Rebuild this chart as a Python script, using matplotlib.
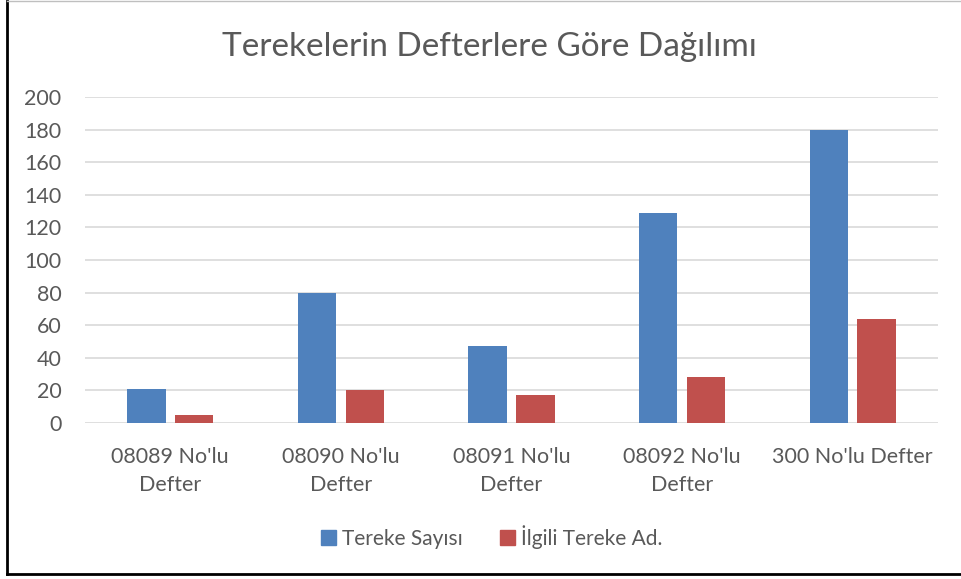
import matplotlib.pyplot as plt
import numpy as np
from matplotlib.patches import Rectangle
from matplotlib.lines import Line2D

# data
categories = ["08089 No'lu\nDefter", "08090 No'lu\nDefter", "08091 No'lu\nDefter",
              "08092 No'lu\nDefter", "300 No'lu Defter"]
tereke_sayisi = [21, 80, 47, 129, 180]
ilgili_tereke = [5, 20, 17, 28, 64]
series_names = ["Tereke Sayısı", "İlgili Tereke Ad."]
y_ticks = [0, 20, 40, 60, 80, 100, 120, 140, 160, 180, 200]

blue = "#4F81BD"
red = "#C0504D"
text_col = "#595959"
plt.rcParams['font.family'] = ['Lato', 'DejaVu Sans']

fig = plt.figure(figsize=(9.61, 5.79), dpi=100)
ax = fig.add_axes([85/961, (579-423)/579, (938-85)/961, 326/579])

x = np.arange(len(categories))
w = 0.225
ax.bar(x - 0.14, tereke_sayisi, w, color=blue, zorder=3)
ax.bar(x + 0.14, ilgili_tereke, w, color=red, zorder=3)

ax.set_xlim(-0.5, len(categories) - 0.5)
ax.set_ylim(0, 200)
ax.set_yticks(y_ticks)
ax.yaxis.grid(True, color="#D9D9D9", lw=1.2, zorder=0)
for s in ax.spines.values():
    s.set_visible(False)
ax.tick_params(axis="both", length=0, colors=text_col, labelsize=15.5)
ax.tick_params(axis="y", pad=17)
ax.tick_params(axis="x", pad=17)
ax.set_xticks(x)
ax.set_xticklabels(categories, linespacing=1.55)

fig.text(489/961, 1 - 47/579, "Terekelerin Defterlere Göre Dağılımı",
         ha="center", va="center", fontsize=24, color=text_col)

handles = [Rectangle((0, 0), 1, 1, color=blue), Rectangle((0, 0), 1, 1, color=red)]
fig.legend(handles, series_names, loc="center", bbox_to_anchor=(492/961, 1 - 537/579),
           ncol=2, frameon=False, fontsize=15, labelcolor=text_col,
           handlelength=0.7, handleheight=0.7, handletextpad=0.3, columnspacing=1.8)

# chart frame
fig.add_artist(Line2D([7/961, 7/961], [5/579, 1 - 1/579], color="black", lw=2))
fig.add_artist(Line2D([7/961, 1], [5/579, 5/579], color="black", lw=2))
fig.add_artist(Line2D([7/961, 1], [1 - 1/579, 1 - 1/579], color="#BFBFBF", lw=1))

fig.savefig("out.png", dpi=100)
